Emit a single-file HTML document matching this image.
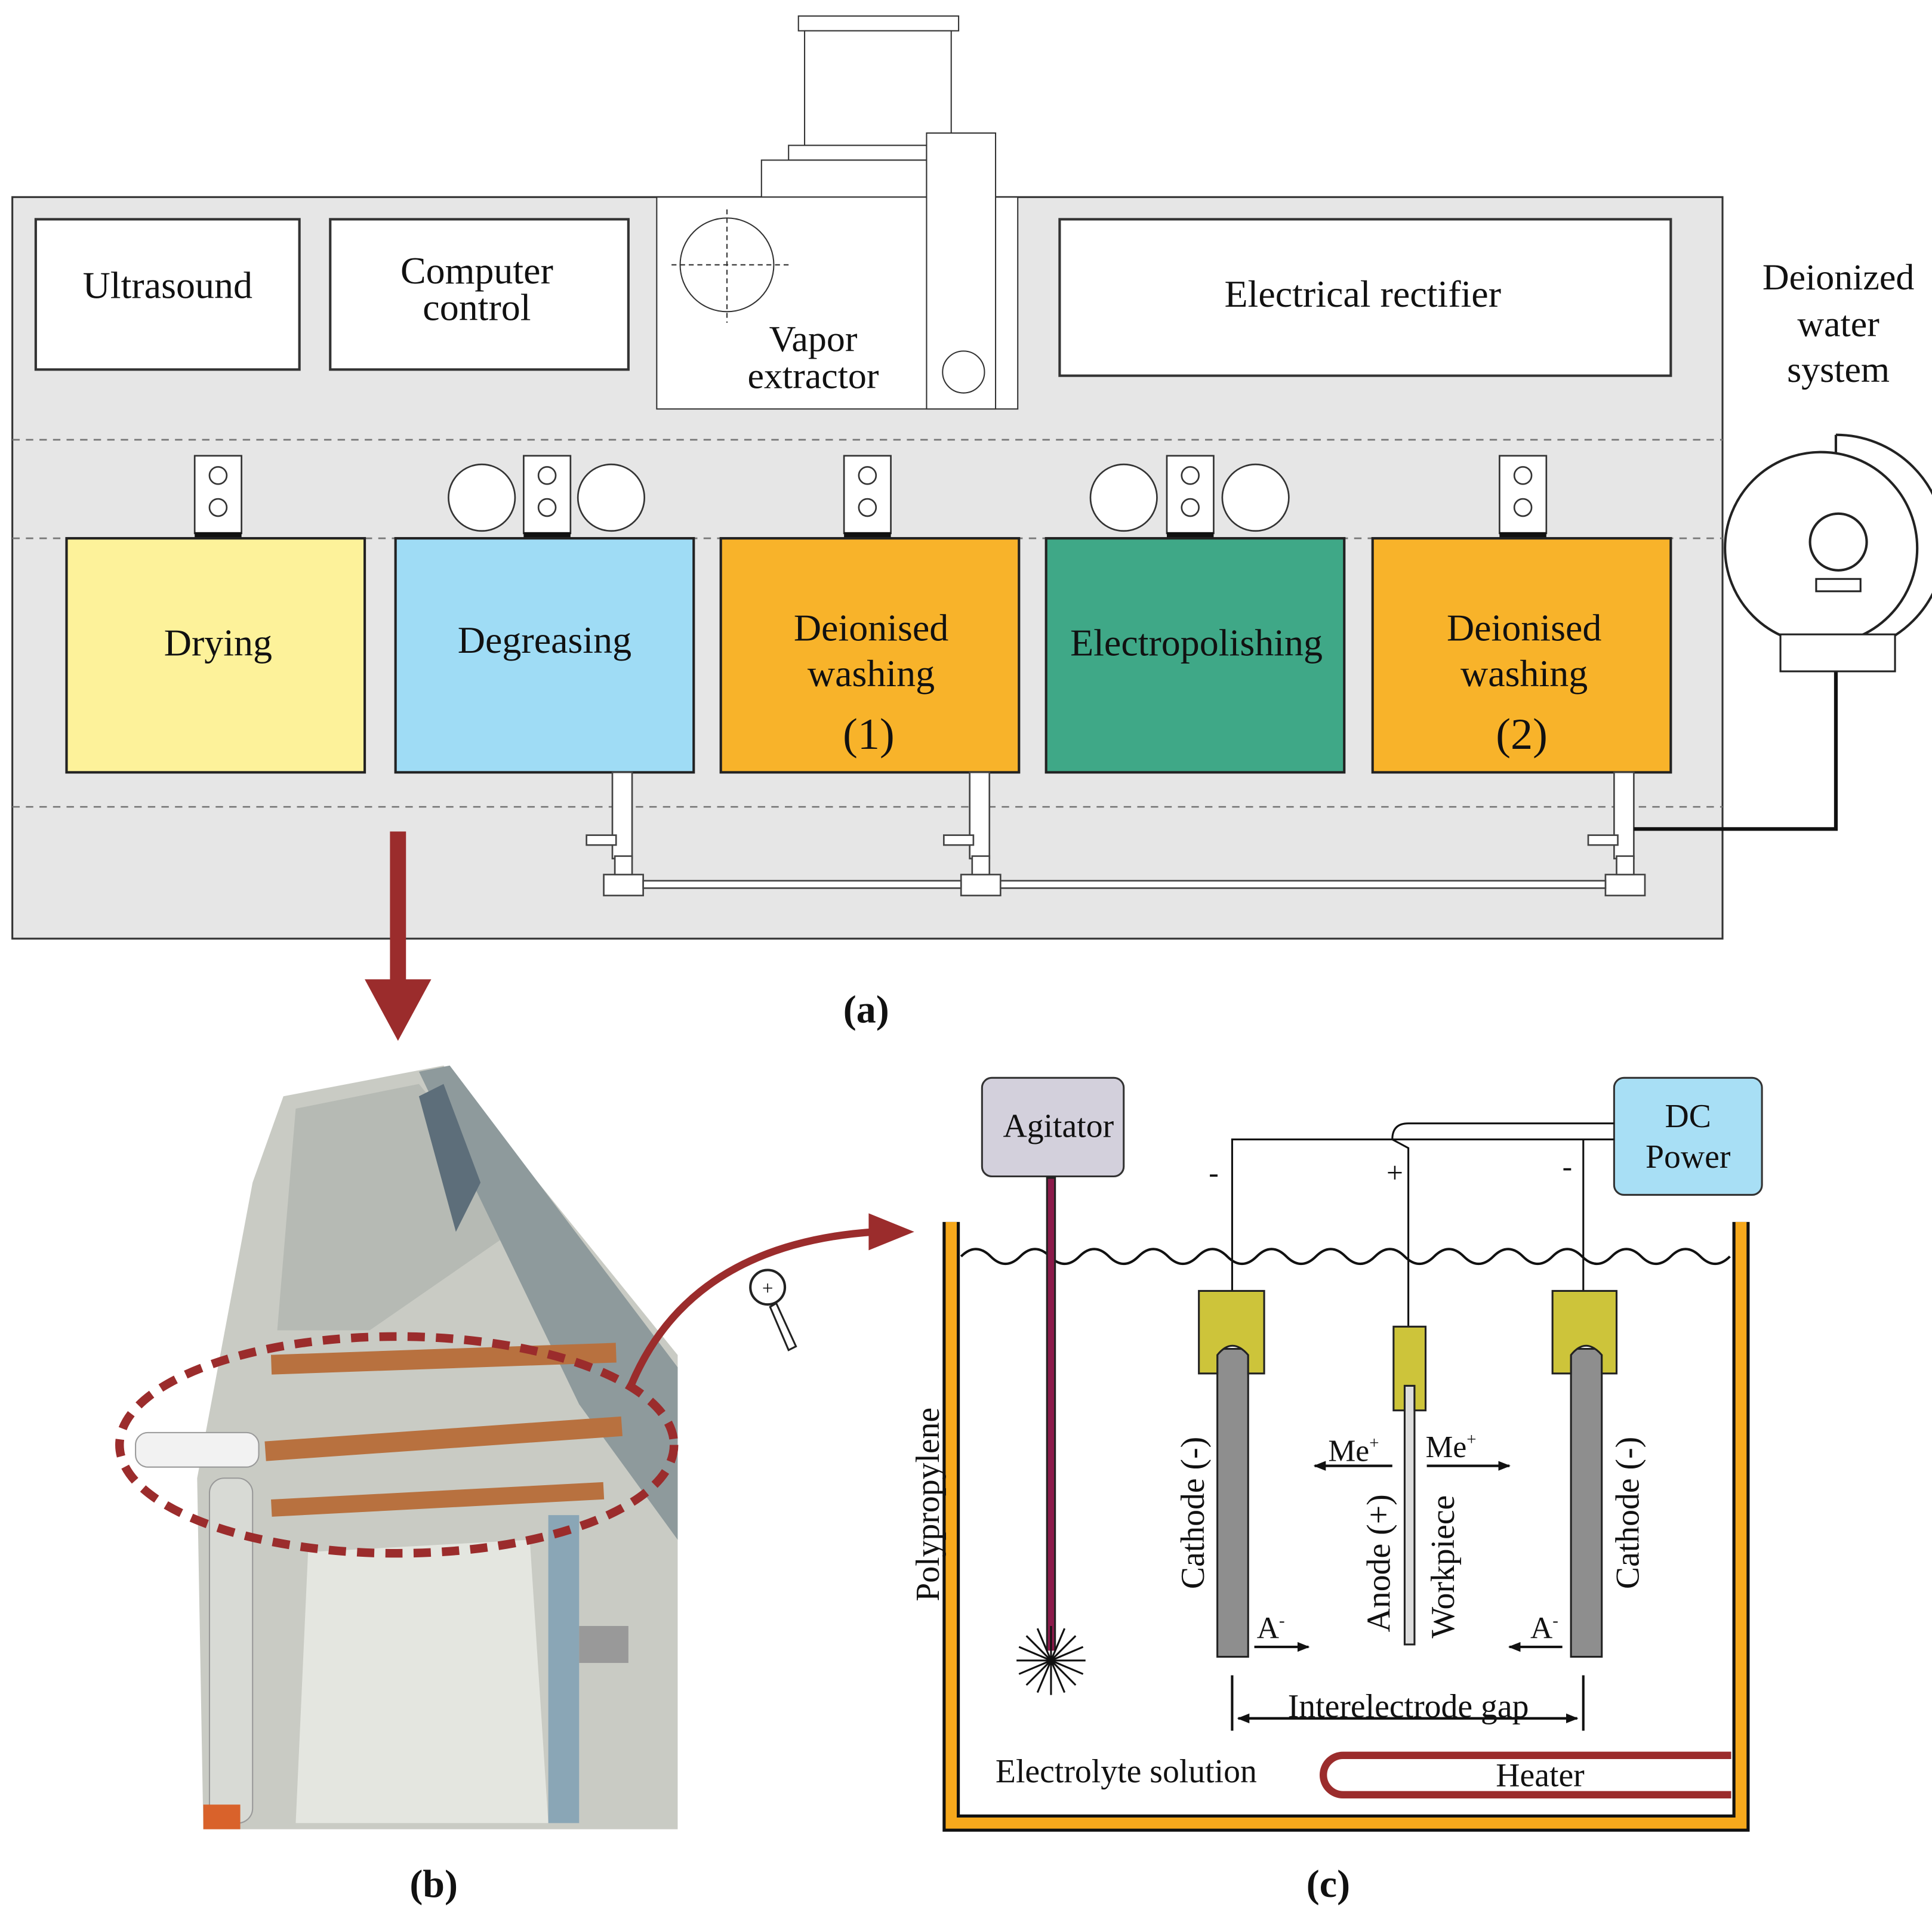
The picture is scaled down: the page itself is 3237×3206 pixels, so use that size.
<!DOCTYPE html>
<html><head><meta charset="utf-8"><style>
html,body{margin:0;padding:0;background:#fff;}
svg{display:block;}
text{font-family:"Liberation Serif",serif;fill:#111;}
</style></head><body>
<svg width="3237" height="3206" viewBox="0 0 1568 1553" xmlns="http://www.w3.org/2000/svg">
<defs>
<marker id="ah" markerWidth="10" markerHeight="10" refX="9" refY="5" orient="auto" markerUnits="userSpaceOnUse"><path d="M0,1 L10,5 L0,9 Z" fill="#111"/></marker>
</defs>
<rect x="10" y="160" width="1388" height="602" fill="#e6e6e6" stroke="#333" stroke-width="1.5"/>
<rect x="648" y="13" width="130" height="12" fill="#fff" stroke="#333"/>
<rect x="653" y="25" width="119" height="93" fill="#fff" stroke="#333"/>
<rect x="640" y="118" width="112" height="12" fill="#fff" stroke="#333"/>
<rect x="618" y="130" width="134" height="30" fill="#fff" stroke="#333"/>
<rect x="533" y="160" width="293" height="172" fill="#fff" stroke="#333"/>
<rect x="752" y="108" width="56" height="224" fill="#fff" stroke="#333"/>
<circle cx="590" cy="215" r="38" fill="none" stroke="#333"/>
<line x1="545" y1="215" x2="640" y2="215" stroke="#333" stroke-dasharray="4,3"/>
<line x1="590" y1="170" x2="590" y2="262" stroke="#333" stroke-dasharray="4,3"/>
<circle cx="782" cy="302" r="17" fill="#fff" stroke="#333"/>
<text x="660" y="285" font-size="30" text-anchor="middle">Vapor</text>
<text x="660" y="315" font-size="30" text-anchor="middle">extractor</text>
<rect x="29" y="178" width="214" height="122" fill="#fff" stroke="#333" stroke-width="2"/>
<text x="136" y="242" font-size="31" text-anchor="middle">Ultrasound</text>
<rect x="268" y="178" width="242" height="122" fill="#fff" stroke="#333" stroke-width="2"/>
<text x="387" y="230" font-size="31" text-anchor="middle">Computer</text>
<text x="387" y="260" font-size="31" text-anchor="middle">control</text>
<rect x="860" y="178" width="496" height="127" fill="#fff" stroke="#333" stroke-width="2"/>
<text x="1106" y="249" font-size="31" text-anchor="middle">Electrical rectifier</text>
<g stroke="#777" stroke-dasharray="6,5" stroke-width="1.3">
<line x1="10" y1="357" x2="1398" y2="357"/><line x1="10" y1="437" x2="1398" y2="437"/><line x1="10" y1="655" x2="1398" y2="655"/>
</g>
<g stroke="#333" stroke-width="1.3">
<rect x="158" y="370" width="38" height="63" fill="#fff"/><circle cx="177" cy="386" r="7" fill="none"/><circle cx="177" cy="412" r="7" fill="none"/>
<rect x="425" y="370" width="38" height="63" fill="#fff"/><circle cx="444" cy="386" r="7" fill="none"/><circle cx="444" cy="412" r="7" fill="none"/>
<rect x="685" y="370" width="38" height="63" fill="#fff"/><circle cx="704" cy="386" r="7" fill="none"/><circle cx="704" cy="412" r="7" fill="none"/>
<rect x="947" y="370" width="38" height="63" fill="#fff"/><circle cx="966" cy="386" r="7" fill="none"/><circle cx="966" cy="412" r="7" fill="none"/>
<rect x="1217" y="370" width="38" height="63" fill="#fff"/><circle cx="1236" cy="386" r="7" fill="none"/><circle cx="1236" cy="412" r="7" fill="none"/>
<circle cx="391" cy="404" r="27" fill="#fff"/><circle cx="496" cy="404" r="27" fill="#fff"/>
<circle cx="912" cy="404" r="27" fill="#fff"/><circle cx="1019" cy="404" r="27" fill="#fff"/>
</g>
<g fill="#111"><rect x="158" y="432" width="38" height="6"/><rect x="425" y="432" width="38" height="6"/><rect x="685" y="432" width="38" height="6"/><rect x="947" y="432" width="38" height="6"/><rect x="1217" y="432" width="38" height="6"/></g>
<g stroke="#222" stroke-width="2">
<rect x="54" y="437" width="242" height="190" fill="#fdf29a"/>
<rect x="321" y="437" width="242" height="190" fill="#9fdcf5"/>
<rect x="585" y="437" width="242" height="190" fill="#f8b32a"/>
<rect x="849" y="437" width="242" height="190" fill="#3fa887"/>
<rect x="1114" y="437" width="242" height="190" fill="#f8b32a"/>
</g>
<g font-size="31" text-anchor="middle">
<text x="177" y="532">Drying</text>
<text x="442" y="530">Degreasing</text>
<text x="707" y="520">Deionised</text><text x="707" y="557">washing</text><text x="705" y="608" font-size="36">(1)</text>
<text x="971" y="532">Electropolishing</text>
<text x="1237" y="520">Deionised</text><text x="1237" y="557">washing</text><text x="1235" y="608" font-size="36">(2)</text>
</g>
<g stroke="#444" stroke-width="1.3" fill="#fff">
<rect x="497" y="627" width="16" height="70"/><rect x="476" y="678" width="24" height="8"/><rect x="490" y="710" width="32" height="17"/><rect x="499" y="695" width="14" height="15"/>
<rect x="787" y="627" width="16" height="70"/><rect x="766" y="678" width="24" height="8"/><rect x="780" y="710" width="32" height="17"/><rect x="789" y="695" width="14" height="15"/>
<rect x="1310" y="627" width="16" height="70"/><rect x="1289" y="678" width="24" height="8"/><rect x="1303" y="710" width="32" height="17"/><rect x="1312" y="695" width="14" height="15"/>
<rect x="522" y="715" width="258" height="6"/><rect x="812" y="715" width="491" height="6"/>
</g>
<polyline points="1326,673 1490,673 1490,545" fill="none" stroke="#111" stroke-width="3"/>
<text x="1492" y="235" font-size="30" text-anchor="middle">Deionized</text>
<text x="1492" y="273" font-size="30" text-anchor="middle">water</text>
<text x="1492" y="310" font-size="30" text-anchor="middle">system</text>
<path d="M1490,353 A88,88 0 0 1 1490,530" fill="none" stroke="#222" stroke-width="2"/>
<line x1="1490" y1="353" x2="1490" y2="375" stroke="#222" stroke-width="2"/>
<circle cx="1478" cy="445" r="78" fill="#fff" stroke="#222" stroke-width="2"/>
<circle cx="1492" cy="440" r="23" fill="#fff" stroke="#222" stroke-width="2"/>
<rect x="1474" y="470" width="36" height="10" fill="#fff" stroke="#222" stroke-width="1.5"/>
<rect x="1445" y="515" width="93" height="30" fill="#fff" stroke="#222" stroke-width="1.5"/>
<line x1="323" y1="675" x2="323" y2="800" stroke="#9b2c2c" stroke-width="13"/>
<path d="M296,795 L350,795 L323,845 Z" fill="#9b2c2c"/>
<text x="703" y="830" font-size="32" text-anchor="middle" font-weight="bold">(a)</text>
<!-- (b) photo approximation -->
<path d="M230,890 L360,865 L550,1100 L550,1485 L165,1485 L160,1200 L205,960 Z" fill="#c9cbc4"/>
<path d="M240,900 L340,880 L430,990 L300,1080 L225,1080 Z" fill="#b6bab4"/>
<path d="M340,870 L365,865 L550,1110 L550,1250 L470,1140 Z" fill="#8e9a9c"/>
<path d="M250,1260 L430,1250 L445,1480 L240,1480 Z" fill="#e4e6e0"/>
<rect x="220" y="1095" width="280" height="16" fill="#b8713f" transform="rotate(-2 360 1100)"/>
<rect x="215" y="1160" width="290" height="16" fill="#b8713f" transform="rotate(-4 360 1168)"/>
<rect x="220" y="1210" width="270" height="14" fill="#b8713f" transform="rotate(-3 360 1215)"/>
<rect x="110" y="1163" width="100" height="28" rx="10" fill="#f2f2f2" stroke="#999"/>
<rect x="170" y="1200" width="35" height="280" rx="12" fill="#d8dad5" stroke="#999"/>
<rect x="445" y="1230" width="25" height="250" fill="#8aa6b6"/>
<rect x="470" y="1320" width="40" height="30" fill="#999"/>
<rect x="165" y="1465" width="30" height="20" fill="#d9622b"/>
<path d="M340,890 L360,880 L390,960 L370,1000 Z" fill="#5d6e7a"/>
<ellipse cx="322" cy="1173" rx="225" ry="88" fill="none" stroke="#9b2c2c" stroke-width="7" stroke-dasharray="14,9"/>
<text x="352" y="1540" font-size="32" text-anchor="middle" font-weight="bold">(b)</text>
<path d="M512,1125 Q560,1010 710,1000" fill="none" stroke="#9b2c2c" stroke-width="6"/>
<path d="M705,985 L742,1000 L705,1015 Z" fill="#9b2c2c"/>
<circle cx="623" cy="1045" r="14" fill="#fff" stroke="#222" stroke-width="2"/>
<text x="623" y="1051" font-size="16" text-anchor="middle">+</text>
<path d="M630,1058 L646,1093 L640,1096 L625,1061 Z" fill="#fff" stroke="#222" stroke-width="1.5"/>
<path d="M772,992 L772,1480 L1413,1480 L1413,992" fill="none" stroke="#111" stroke-width="14"/>
<path d="M772,992 L772,1480 L1413,1480 L1413,992" fill="none" stroke="#f6a81c" stroke-width="9"/>
<path d="M780,1020 q12,-12 24,0 t24,0 t24,0 t24,0 t24,0 t24,0 t24,0 t24,0 t24,0 t24,0 t24,0 t24,0 t24,0 t24,0 t24,0 t24,0 t24,0 t24,0 t24,0 t24,0 t24,0 t24,0 t24,0 t24,0 t24,0 t24,0" fill="none" stroke="#111" stroke-width="2"/>
<rect x="797" y="875" width="115" height="80" rx="8" fill="#d3d0dc" stroke="#333" stroke-width="1.5"/>
<text x="859" y="923" font-size="27" text-anchor="middle">Agitator</text>
<line x1="853" y1="955" x2="853" y2="1340" stroke="#222" stroke-width="8"/>
<line x1="853" y1="957" x2="853" y2="1340" stroke="#8b1a4a" stroke-width="5"/>
<g stroke="#111" stroke-width="1.5">
<line x1="825" y1="1348" x2="881" y2="1348"/><line x1="853" y1="1320" x2="853" y2="1376"/>
<line x1="833" y1="1328" x2="873" y2="1368"/><line x1="873" y1="1328" x2="833" y2="1368"/>
<line x1="827" y1="1337" x2="879" y2="1359"/><line x1="827" y1="1359" x2="879" y2="1337"/>
<line x1="842" y1="1322" x2="864" y2="1374"/><line x1="864" y1="1322" x2="842" y2="1374"/>
</g>
<rect x="1310" y="875" width="120" height="95" rx="8" fill="#a8dff5" stroke="#333" stroke-width="1.5"/>
<text x="1370" y="915" font-size="27" text-anchor="middle">DC</text>
<text x="1370" y="948" font-size="27" text-anchor="middle">Power</text>
<g stroke="#111" stroke-width="1.5" fill="none">
<polyline points="1000,1050 1000,925 1310,925"/>
<line x1="1285" y1="925" x2="1285" y2="1050"/>
<path d="M1310,912 L1143,912 Q1130,912 1130,925 L1143,932 L1143,1080"/>
</g>
<text x="985" y="960" font-size="24" text-anchor="middle">-</text>
<text x="1132" y="960" font-size="24" text-anchor="middle">+</text>
<text x="1272" y="955" font-size="24" text-anchor="middle">-</text>
<g stroke="#222" stroke-width="1.5">
<rect x="988" y="1095" width="25" height="250" fill="#8e8e8e"/>
<rect x="1275" y="1095" width="25" height="250" fill="#8e8e8e"/>
<rect x="1140" y="1120" width="8" height="215" fill="#ddd"/>
<path d="M973,1048 L1026,1048 L1026,1115 L1013,1115 L1013,1100 Q1000,1085 988,1100 L988,1115 L973,1115 Z" fill="#cdc43a"/>
<path d="M1260,1048 L1312,1048 L1312,1115 L1300,1115 L1300,1100 Q1287,1085 1275,1100 L1275,1115 L1260,1115 Z" fill="#cdc43a"/>
<path d="M1131,1077 L1157,1077 L1157,1145 L1148,1145 L1148,1125 L1140,1125 L1140,1145 L1131,1145 Z" fill="#cdc43a"/>
</g>
<text font-size="27" transform="translate(977,1290) rotate(-90)">Cathode (-)</text>
<text font-size="27" transform="translate(1330,1290) rotate(-90)">Cathode (-)</text>
<text font-size="27" transform="translate(1128,1325) rotate(-90)">Anode (+)</text>
<text font-size="27" transform="translate(1180,1330) rotate(-90)">Workpiece</text>
<text font-size="27" transform="translate(762,1300) rotate(-90)">Polypropylene</text>
<text x="1078" y="1186" font-size="25">Me<tspan font-size="14" dy="-10">+</tspan></text>
<text x="1157" y="1183" font-size="25">Me<tspan font-size="14" dy="-10">+</tspan></text>
<g stroke="#111" stroke-width="2" fill="none">
<line x1="1130" y1="1190" x2="1067" y2="1190" marker-end="url(#ah)"/>
<line x1="1158" y1="1190" x2="1225" y2="1190" marker-end="url(#ah)"/>
<line x1="1018" y1="1337" x2="1062" y2="1337" marker-end="url(#ah)"/>
<line x1="1268" y1="1337" x2="1225" y2="1337" marker-end="url(#ah)"/>
<line x1="1000" y1="1360" x2="1000" y2="1405"/><line x1="1285" y1="1360" x2="1285" y2="1405"/>
<line x1="1005" y1="1395" x2="1280" y2="1395" marker-end="url(#ah)"/>
<line x1="1280" y1="1395" x2="1005" y2="1395" marker-end="url(#ah)"/>
</g>
<text x="1020" y="1330" font-size="25">A<tspan font-size="14" dy="-10">-</tspan></text>
<text x="1242" y="1330" font-size="25">A<tspan font-size="14" dy="-10">-</tspan></text>
<text x="1143" y="1394" font-size="27" text-anchor="middle">Interelectrode gap</text>
<text x="914" y="1447" font-size="27" text-anchor="middle">Electrolyte solution</text>
<path d="M1405,1425 L1090,1425 A16,16 0 0 0 1090,1457 L1405,1457" fill="none" stroke="#9b2c2c" stroke-width="6"/>
<text x="1250" y="1450" font-size="27" text-anchor="middle">Heater</text>
<text x="1078" y="1540" font-size="32" text-anchor="middle" font-weight="bold">(c)</text>
</svg>
</body></html>
